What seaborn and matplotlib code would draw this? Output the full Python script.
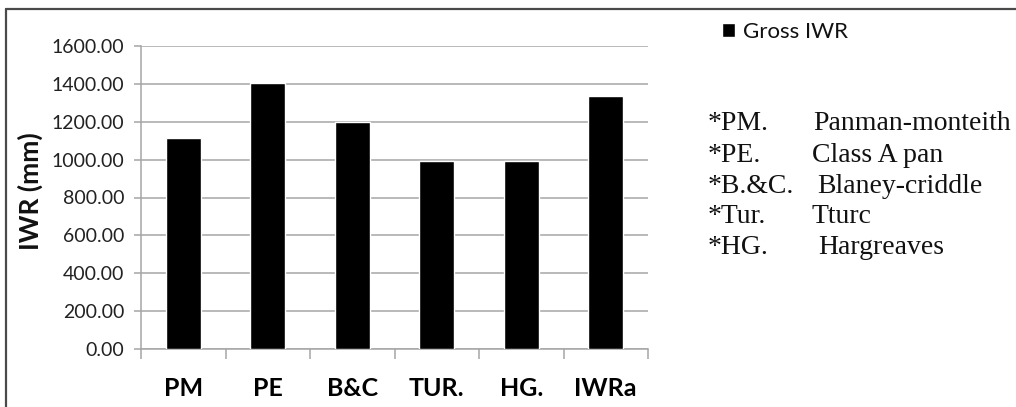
import matplotlib
matplotlib.use("Agg")
import matplotlib.pyplot as plt
import seaborn as sns
import pandas as pd
from matplotlib.lines import Line2D

# Irrigation water requirement by estimation method
methods = ["PM", "PE", "B&C", "TUR.", "HG.", "IWRa"]
gross_iwr = [1116.0, 1403.0, 1200.0, 995.0, 995.0, 1337.0]
series_name = "Gross IWR"
y_ticks = [0, 200, 400, 600, 800, 1000, 1200, 1400, 1600]

abbrevs = ["*PM.", "*PE.", "*B.&C.", "*Tur.", "*HG."]
full_names = ["Panman-monteith", "Class A pan", "Blaney-criddle", "Tturc", "Hargreaves"]

df = pd.DataFrame({"method": methods, "iwr": gross_iwr})

sns.set_theme(style="white")
plt.rcParams["font.family"] = ["Lato", "DejaVu Sans"]

W, H = 1016, 407
fig = plt.figure(figsize=(W / 100, H / 100), dpi=100)
ax = fig.add_axes([141 / W, 1 - 349 / H, (648 - 141) / W, (349 - 46) / H])

sns.barplot(data=df, x="method", y="iwr", color="black", saturation=1,
            width=0.42, label=series_name, ax=ax, zorder=3)

grid_c = "#a6a6a6"
ax.set_ylim(0, 1600)
ax.set_xlim(-0.5, len(methods) - 0.5)
ax.set_yticks(y_ticks)
ax.set_yticklabels([f"{v:.2f}" for v in y_ticks])
ax.yaxis.grid(True, color=grid_c, linewidth=1.1, zorder=0)
ax.set_axisbelow(True)

for side in ["top", "right"]:
    ax.spines[side].set_visible(False)
for side in ["left", "bottom"]:
    ax.spines[side].set_visible(True)
    ax.spines[side].set_color(grid_c)
    ax.spines[side].set_linewidth(1.1)

ax.tick_params(axis="y", which="major", left=True, length=5, width=1.1,
               color=grid_c, pad=7, labelsize=14, labelcolor="#222222")
ax.tick_params(axis="x", which="major", bottom=False, pad=14,
               labelsize=18, labelcolor="black")
for lbl in ax.get_xticklabels():
    lbl.set_fontweight("bold")
ax.set_xticks([i - 0.5 for i in range(len(methods) + 1)], minor=True)
ax.tick_params(axis="x", which="minor", bottom=True, length=7, width=1.1,
               color=grid_c)

ax.set_xlabel("")
ax.set_ylabel("")
fig.text(30 / W, 1 - 191 / H, "IWR (mm)", rotation=90, ha="center", va="center",
         fontsize=19, fontweight="bold", color="#111111")

leg = ax.legend(loc="upper left", bbox_to_anchor=(722 / W, 1 - 22 / H),
                bbox_transform=fig.transFigure, frameon=False, fontsize=16,
                handlelength=0.6, handleheight=0.6, handletextpad=0.35,
                borderpad=0, borderaxespad=0)
for t in leg.get_texts():
    t.set_color("#111111")

# Method key
baselines = [130, 162, 193, 223, 254]
name_x = [813, 812, 817, 812, 818]
for ab, nm, b, nx in zip(abbrevs, full_names, baselines, name_x):
    fig.text(708 / W, 1 - b / H, ab, fontsize=20, va="baseline", ha="left",
             family=["Liberation Serif", "DejaVu Serif"], color="#111111")
    fig.text(nx / W, 1 - b / H, nm, fontsize=20, va="baseline", ha="left",
             family=["Liberation Serif", "DejaVu Serif"], color="#111111")

# Chart area frame (top and left edges)
frame_c = "#4a4a4a"
fig.add_artist(Line2D([6 / W, 1.0], [1 - 9 / H, 1 - 9 / H], color=frame_c,
                      linewidth=1.6, transform=fig.transFigure))
fig.add_artist(Line2D([6 / W, 6 / W], [0.0, 1 - 9 / H], color=frame_c,
                      linewidth=1.6, transform=fig.transFigure))

fig.savefig("out.png", dpi=100)
